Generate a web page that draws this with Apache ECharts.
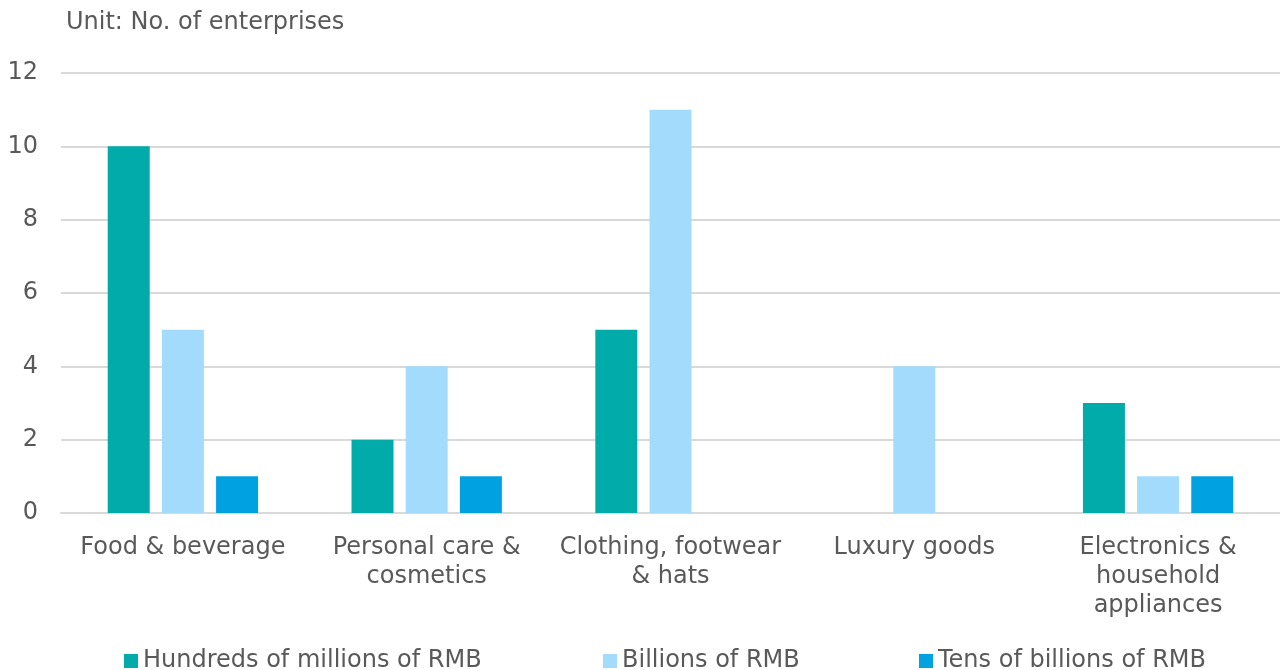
<!DOCTYPE html>
<html>
<head>
<meta charset="utf-8">
<script src="https://cdn.jsdelivr.net/npm/echarts@6/dist/echarts.min.js"></script>
<style>
  html, body { margin: 0; padding: 0; background: #ffffff; }
  #chart { width: 1280px; height: 670px; }
</style>
</head>
<body>
<div id="chart"></div>
<script>
// Industry categories (line breaks are how the axis labels wrap)
const categories = [
  'Food & beverage',
  'Personal care &\ncosmetics',
  'Clothing, footwear\n& hats',
  'Luxury goods',
  'Electronics &\nhousehold\nappliances'
];

// Number of enterprises by revenue scale
const seriesNames = ['Hundreds of millions of RMB', 'Billions of RMB', 'Tens of billions of RMB'];
const hundredsOfMillions = [10, 2, 5, 0, 3];
const billions = [5, 4, 11, 4, 1];
const tensOfBillions = [1, 1, 0, 0, 1];

const yTicks = [0, 2, 4, 6, 8, 10, 12];

const colors = ['#00ABA9', '#A3DBFD', '#00A1E0'];
const textColor = '#595959';
const fontFamily = '"DejaVu Sans", Verdana, sans-serif';

const values = [hundredsOfMillions, billions, tensOfBillions];
const legendLeft = [119, 598, 914];

const chart = echarts.init(document.getElementById('chart'), null, { renderer: 'canvas' });

chart.setOption({
  animation: false,
  backgroundColor: '#ffffff',
  title: {
    text: 'Unit: No. of enterprises',
    left: 61,
    top: 6,
    textStyle: { color: textColor, fontFamily: fontFamily, fontSize: 24, fontWeight: 'normal' }
  },
  legend: seriesNames.map((name, i) => ({
    data: [name],
    left: legendLeft[i],
    top: 644,
    itemWidth: 14,
    itemHeight: 14,
    itemGap: 0,
    icon: 'rect',
    textStyle: {
      color: textColor,
      fontFamily: fontFamily,
      fontSize: 24
    }
  })),
  grid: { left: 61, right: 0, top: 73, bottom: 157 },
  xAxis: {
    type: 'category',
    data: categories,
    axisLine: { show: true, lineStyle: { color: '#D9D9D9', width: 2 } },
    axisTick: { show: false },
    axisLabel: {
      color: textColor,
      fontFamily: fontFamily,
      fontSize: 24,
      lineHeight: 29,
      margin: 20,
      interval: 0
    }
  },
  yAxis: {
    type: 'value',
    min: yTicks[0],
    max: yTicks[yTicks.length - 1],
    interval: 2,
    axisLine: { show: false },
    axisTick: { show: false },
    splitLine: { lineStyle: { color: '#D9D9D9', width: 2 } },
    axisLabel: {
      color: textColor,
      fontFamily: fontFamily,
      fontSize: 24,
      margin: 23
    }
  },
  series: seriesNames.map((name, i) => ({
    name: name,
    type: 'bar',
    data: values[i],
    barWidth: 42,
    barGap: '29%',
    itemStyle: { color: colors[i] }
  }))
});
</script>
</body>
</html>
